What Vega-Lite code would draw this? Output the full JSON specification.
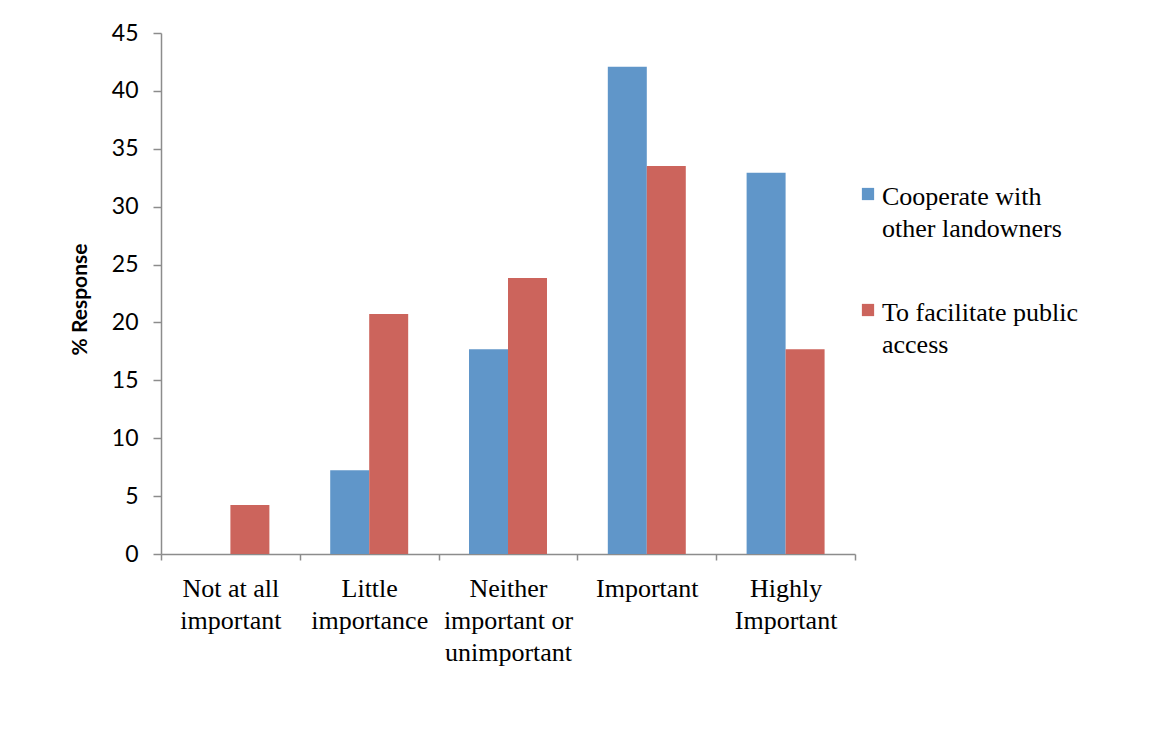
{
  "$schema": "https://vega.github.io/schema/vega-lite/v6.json",
  "autosize": {"type": "none"},
  "padding": {"left": 161, "top": 33, "right": 300, "bottom": 194},
  "width": 694,
  "height": 521,
  "background": "white",
  "config": {"view": {"stroke": null}},
  "data": {
    "values": [
      {"category": "Not at all|important", "order": 1, "series": "Cooperate with|other landowners", "value": 0},
      {"category": "Not at all|important", "order": 1, "series": "To facilitate public|access", "value": 4.24},
      {"category": "Little|importance", "order": 2, "series": "Cooperate with|other landowners", "value": 7.24},
      {"category": "Little|importance", "order": 2, "series": "To facilitate public|access", "value": 20.72},
      {"category": "Neither|important or|unimportant", "order": 3, "series": "Cooperate with|other landowners", "value": 17.69},
      {"category": "Neither|important or|unimportant", "order": 3, "series": "To facilitate public|access", "value": 23.83},
      {"category": "Important", "order": 4, "series": "Cooperate with|other landowners", "value": 42.09},
      {"category": "Important", "order": 4, "series": "To facilitate public|access", "value": 33.52},
      {"category": "Highly|Important", "order": 5, "series": "Cooperate with|other landowners", "value": 32.92},
      {"category": "Highly|Important", "order": 5, "series": "To facilitate public|access", "value": 17.69}
    ]
  },
  "mark": {"type": "bar"},
  "encoding": {
    "x": {
      "field": "category",
      "type": "nominal",
      "sort": {"field": "order"},
      "scale": {"paddingInner": 0, "paddingOuter": 0},
      "axis": {
        "title": null,
        "labelAngle": 0,
        "labelExpr": "split(datum.label, '|')",
        "labelFont": "Liberation Serif",
        "labelFontSize": 26,
        "labelLineHeight": 32,
        "labelColor": "black",
        "labelPadding": 15,
        "labelLimit": 0,
        "tickBand": "extent",
        "tickSize": 6,
        "tickColor": "#8c8c8c",
        "domainColor": "#8c8c8c",
        "domainWidth": 1.5,
        "tickWidth": 1.5
      }
    },
    "xOffset": {
      "field": "series",
      "type": "nominal",
      "scale": {"paddingInner": 0, "paddingOuter": 0.78}
    },
    "y": {
      "field": "value",
      "type": "quantitative",
      "scale": {"domain": [0, 45], "nice": false},
      "axis": {
        "title": "% Response",
        "titleFont": "Lato",
        "titleFontSize": 21,
        "titleFontWeight": "bold",
        "titleColor": "black",
        "titleX": -81,
        "titleY": 266,
        "titleAngle": -90,
        "titleAlign": "center",
        "titleBaseline": "middle",
        "values": [0, 5, 10, 15, 20, 25, 30, 35, 40, 45],
        "grid": false,
        "labelFont": "Lato",
        "labelFontSize": 23,
        "labelColor": "black",
        "labelPadding": 15,
        "tickSize": 8,
        "tickColor": "#8c8c8c",
        "domainColor": "#8c8c8c",
        "domainWidth": 1.5,
        "tickWidth": 1.5
      }
    },
    "color": {
      "field": "series",
      "type": "nominal",
      "scale": {"range": ["#6096C9", "#CC645C"]},
      "legend": {
        "title": null,
        "orient": "none",
        "legendX": 694,
        "legendY": 148,
        "symbolType": "square",
        "symbolSize": 150,
        "symbolStrokeWidth": 0,
        "labelExpr": "split(datum.label, '|')",
        "labelFont": "Liberation Serif",
        "labelFontSize": 26,
        "labelColor": "black",
        "labelLimit": 0,
        "labelOffset": 1,
        "labelBaseline": "alphabetic",
        "rowPadding": 55,
        "encode": {
          "labels": {
            "update": {
              "lineHeight": {"value": 32},
              "dy": {"value": 11}
            }
          }
        }
      }
    }
  }
}
